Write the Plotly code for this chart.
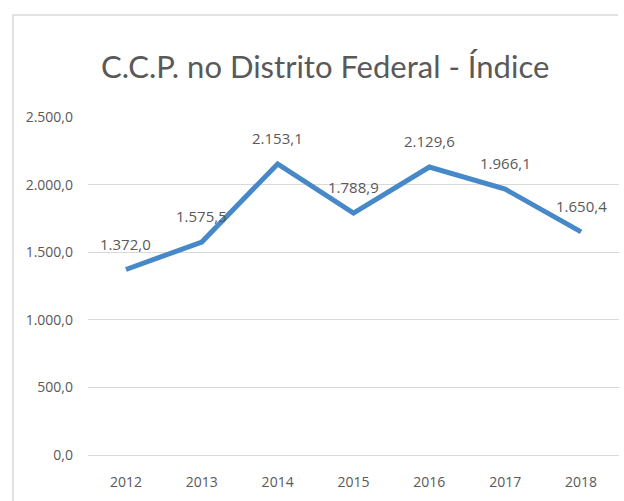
import plotly.graph_objects as go

years = ["2012", "2013", "2014", "2015", "2016", "2017", "2018"]
values = [1372.0, 1575.5, 2153.1, 1788.9, 2129.6, 1966.1, 1650.4]
title_text = "C.C.P. no Distrito Federal - Índice"

W, H = 624, 501
ml, mr, mt, mb = 88, 5, 117, 46
pw, ph = W - ml - mr, H - mt - mb

TXT = "#595959"
FONT = "Open Sans, sans-serif"


def fmt_br(v):
    return f"{v:,.1f}".replace(",", "X").replace(".", ",").replace("X", ".")


def px_x(p):
    return (p - ml) / pw


def px_y(p):
    return (H - mb - p) / ph


fig = go.Figure()
fig.add_trace(go.Scatter(
    x=years, y=values, mode="lines",
    line=dict(color="#4789c8", width=5),
    hoverinfo="skip", showlegend=False,
))
for i, yv in enumerate(values):
    fig.add_annotation(
        x=i, y=yv, xref="x", yref="y",
        text=fmt_br(yv),
        showarrow=False, yshift=26,
        font=dict(family=FONT, size=15, color=TXT),
    )

fig.add_annotation(
    xref="paper", yref="paper", x=px_x(325), y=px_y(66),
    text=title_text, showarrow=False, xanchor="center", yanchor="middle",
    font=dict(family="Lato, sans-serif", size=31, color=TXT),
)

# chart border: only the left and top edges are inside the picture
fig.add_shape(type="path", xref="paper", yref="paper",
              path=f"M {px_x(13)},{px_y(501)} L {px_x(13)},{px_y(15)} L {px_x(618)},{px_y(15)}",
              line=dict(color="#d9d9d9", width=1.5), layer="below")

fig.update_layout(
    width=W, height=H,
    margin=dict(l=ml, r=mr, t=mt, b=mb),
    paper_bgcolor="white", plot_bgcolor="white",
    separators=",.",
    xaxis=dict(
        type="category", range=[-0.5, 6.5],
        showgrid=False, showline=True, linecolor="#d9d9d9", linewidth=1,
        ticks="", tickfont=dict(family=FONT, size=14, color=TXT),
        ticklabelstandoff=14, fixedrange=True,
    ),
    yaxis=dict(
        range=[0, 2500], dtick=500, tickformat=",.1f",
        showgrid=True, gridcolor="#d9d9d9", gridwidth=1,
        zeroline=False, showline=False,
        ticks="", tickfont=dict(family=FONT, size=14, color=TXT),
        ticklabelstandoff=14, fixedrange=True,
    ),
)

fig.write_html("out.html", config={"displayModeBar": False},
               post_script="document.body.style.margin='0';document.body.style.overflow='hidden';")
